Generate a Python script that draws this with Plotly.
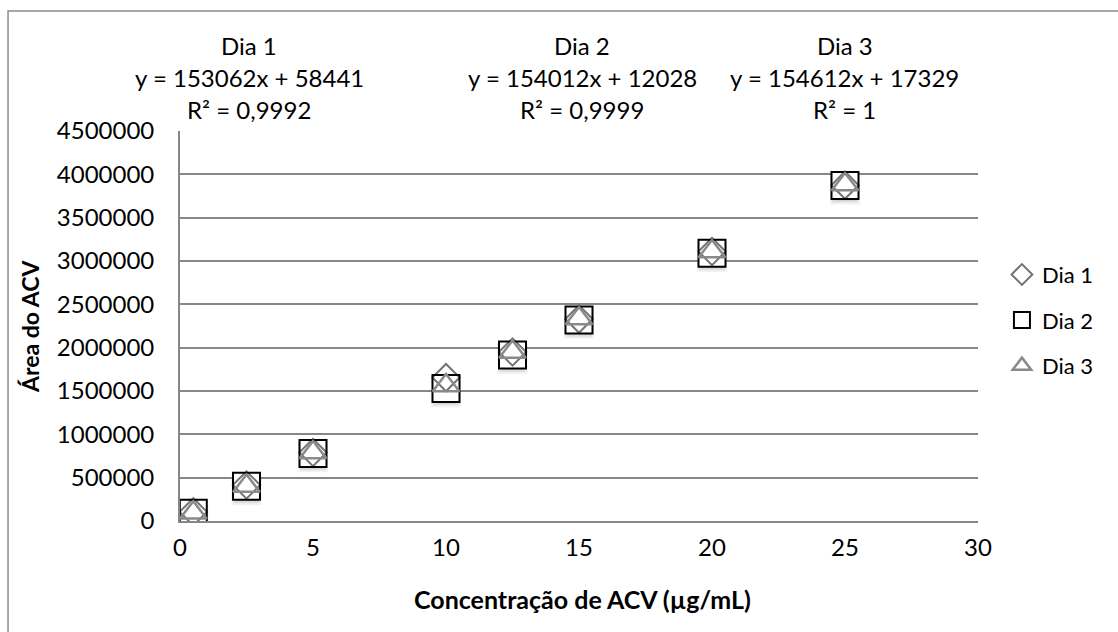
import plotly.graph_objects as go

# Concentrações de aciclovir (µg/mL) e áreas de pico por dia de análise
concentracao = [0.5, 2.5, 5, 10, 12.5, 15, 20, 25]
area_dia1 = [105000, 415000, 790000, 1655000, 1950000, 2330000, 3110000, 3875000]
area_dia2 = [90000, 400000, 780000, 1530000, 1915000, 2320000, 3090000, 3870000]
area_dia3 = [95000, 404000, 790000, 1563000, 1950000, 2336000, 3110000, 3883000]

series_nomes = ["Dia 1", "Dia 2", "Dia 3"]
equacoes = ["y = 153062x + 58441", "y = 154012x + 12028", "y = 154612x + 17329"]
r2_textos = ["R² = 0,9992", "R² = 0,9999", "R² = 1"]

y_ticks = [0, 500000, 1000000, 1500000, 2000000, 2500000, 3000000, 3500000, 4000000, 4500000]
x_ticks = [0, 5, 10, 15, 20, 25, 30]

FONT = "Lato"
GRID = "#878787"

fig = go.Figure()

# Sombra suave sob os marcadores (camadas translúcidas deslocadas para baixo)
sombra_desloc = 45000
for tam, alfa in [(30, 0.05), (26, 0.08), (22, 0.10)]:
    fig.add_trace(go.Scatter(
        x=concentracao, y=[v - sombra_desloc for v in area_dia2], mode="markers",
        showlegend=False, hoverinfo="skip",
        marker=dict(symbol="square", size=tam, color=f"rgba(0,0,0,{alfa})",
                    line=dict(width=0)),
    ))
# Fundo branco dos marcadores, cobrindo a sombra por dentro
fig.add_trace(go.Scatter(
    x=concentracao, y=area_dia2, mode="markers", showlegend=False, hoverinfo="skip",
    marker=dict(symbol="square", size=27, color="white", line=dict(width=0)),
))

estilos = [
    dict(symbol="diamond-open", size=21, color="#747474", lw=2),
    dict(symbol="square-open", size=27, color="#000000", lw=2),
    dict(symbol="triangle-up-open", size=23, color="#8a8a8a", lw=2.5),
]
for nome, ys, st in zip(series_nomes, [area_dia1, area_dia2, area_dia3], estilos):
    fig.add_trace(go.Scatter(
        x=concentracao, y=ys, mode="markers", name=nome, legendgroup=nome,
        marker=dict(symbol=st["symbol"], size=st["size"], color=st["color"],
                    line=dict(width=st["lw"], color=st["color"])),
    ))

# Rótulos das retas de calibração acima da área do gráfico
rotulo_x = [0.087, 0.504, 0.833]
for nome, eq, r2, xp in zip(series_nomes, equacoes, r2_textos, rotulo_x):
    for txt, yp in zip([nome, eq, r2], [1.218, 1.136, 1.054]):
        fig.add_annotation(text=txt, x=xp, y=yp, xref="paper", yref="paper",
                           showarrow=False, xanchor="center", yanchor="middle",
                           font=dict(family=FONT, size=24, color="#000000"))

# Títulos dos eixos
fig.add_annotation(text="<b>Concentração de ACV (µg/mL)</b>", x=0.505, y=-0.2,
                   xref="paper", yref="paper", showarrow=False,
                   xanchor="center", yanchor="middle",
                   font=dict(family=FONT, size=25, color="#000000"))
fig.add_annotation(text="<b>Área do ACV</b>", x=-0.188, y=0.5, textangle=-90,
                   xref="paper", yref="paper", showarrow=False,
                   xanchor="center", yanchor="middle",
                   font=dict(family=FONT, size=23, color="#000000"))

# Moldura externa do gráfico
fig.add_shape(type="rect", xref="paper", yref="paper",
              x0=-0.2155, x1=2.0, y0=-1.0, y1=1.3077,
              line=dict(color="#8c8c8c", width=1.5), fillcolor="rgba(0,0,0,0)",
              layer="below")

fig.update_layout(
    width=1118, height=632,
    margin=dict(l=180, r=140, t=131, b=111),
    paper_bgcolor="white", plot_bgcolor="white",
    font=dict(family=FONT, size=23, color="#000000"),
    showlegend=True,
    legend=dict(x=1.03, y=0.515, xanchor="left", yanchor="middle",
                tracegroupgap=14, bgcolor="rgba(0,0,0,0)",
                font=dict(family=FONT, size=22, color="#000000")),
    xaxis=dict(range=[0, 30], tickvals=x_ticks, showgrid=False,
               showline=True, linecolor=GRID, linewidth=1.8,
               ticks="", ticklabelstandoff=4, zeroline=False,
               tickfont=dict(family=FONT, size=24, color="#000000")),
    yaxis=dict(range=[0, 4500000], tickvals=y_ticks, tickformat="d",
               showgrid=True, gridcolor=GRID, gridwidth=1.8,
               showline=True, linecolor=GRID, linewidth=1.8,
               ticks="", ticklabelstandoff=19, zeroline=False,
               tickfont=dict(family=FONT, size=24, color="#000000")),
)

fig.write_html("out.html")
